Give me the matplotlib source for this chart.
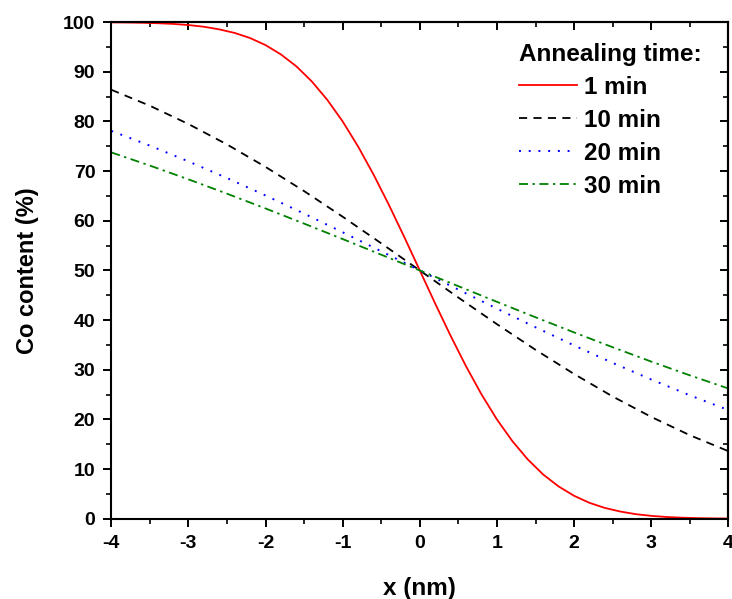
import matplotlib
matplotlib.use("Agg")
import matplotlib.pyplot as plt
from matplotlib.ticker import MultipleLocator

x_red = [-4.0, -3.8, -3.6, -3.4, -3.2, -3.0, -2.8, -2.6, -2.4, -2.2, -2.0, -1.8, -1.6, -1.4, -1.2, -1.0,
         -0.8, -0.6, -0.4, -0.2, 0.0, 0.2, 0.4, 0.6, 0.8, 1.0, 1.2, 1.4, 1.6, 1.8, 2.0, 2.2, 2.4, 2.6,
         2.8, 3.0, 3.2, 3.4, 3.6, 3.8, 4.0]
co_1min = [99.96, 99.93, 99.88, 99.79, 99.65, 99.42, 99.08, 98.55, 97.83, 96.80, 95.38, 93.50, 91.10, 88.06,
           84.37, 80.01, 74.96, 69.32, 63.18, 56.69, 50.0, 43.31, 36.82, 30.68, 25.04, 19.99, 15.63, 11.94,
           8.90, 6.50, 4.62, 3.20, 2.17, 1.45, 0.92, 0.58, 0.35, 0.21, 0.12, 0.07, 0.04]

x_pos = [-4.0, -3.5, -3.0, -2.5, -2.0, -1.5, -1.0, -0.5, 0.0, 0.5, 1.0, 1.5, 2.0, 2.5, 3.0, 3.5, 4.0]
co_10min = [86.39, 83.17, 79.49, 75.38, 70.85, 65.98, 60.82, 55.46, 50.0, 44.54, 39.18, 34.02, 29.15, 24.62, 20.51, 16.83, 13.61]
co_20min = [78.11, 75.14, 71.96, 68.61, 65.10, 61.44, 57.69, 53.86, 50.0, 46.14, 42.31, 38.56, 34.90, 31.39, 28.04, 24.86, 21.89]
co_30min = [73.77, 71.12, 68.35, 65.46, 62.48, 59.43, 56.32, 53.17, 50.0, 46.83, 43.68, 40.57, 37.52, 34.54, 31.65, 28.88, 26.23]

labels = ["1 min", "10 min", "20 min", "30 min"]
x_ticks = [-4, -3, -2, -1, 0, 1, 2, 3, 4]
y_ticks = [0, 10, 20, 30, 40, 50, 60, 70, 80, 90, 100]

plt.rcParams['font.family'] = ['Liberation Sans', 'DejaVu Sans']
plt.rcParams['font.weight'] = 'bold'
plt.rcParams['axes.unicode_minus'] = False

fig = plt.figure(figsize=(7.32, 5.99), dpi=100)
ax = fig.add_axes([0.152, 0.134, 0.843, 0.829])

ax.plot(x_red, co_1min, color='#ff0000', lw=1.3, ls='-', label=labels[0])
ax.plot(x_pos, co_10min, color='black', lw=1.3, ls=(0, (4.5, 3.5)), label=labels[1])
ax.plot(x_pos, co_20min, color='#0000ff', lw=1.4, ls=(0, (1, 4)), label=labels[2])
ax.plot(x_pos, co_30min, color='#008000', lw=1.3, ls=(0, (5, 2.5, 1.3, 2.5)), label=labels[3])

ax.set_xlim(-4, 4)
ax.set_ylim(0, 100)
ax.set_xticks(x_ticks)
ax.set_yticks(y_ticks)
ax.xaxis.set_minor_locator(MultipleLocator(0.5))
ax.yaxis.set_minor_locator(MultipleLocator(5))
ax.tick_params(which='major', direction='out', length=6, width=1.4, labelsize=14)
ax.tick_params(axis='x', which='major', pad=6)
ax.tick_params(axis='y', which='major', pad=5.5)
ax.tick_params(which='minor', direction='out', length=3.5, width=1.2)
for lab in ax.get_xticklabels() + ax.get_yticklabels():
    lab.set_fontweight('bold')
for s in ax.spines.values():
    s.set_linewidth(1.5)

secx = ax.secondary_xaxis('top')
secx.set_xticks(x_ticks)
secx.xaxis.set_minor_locator(MultipleLocator(0.5))
secx.tick_params(which='major', direction='in', length=6, width=1.4, labeltop=False)
secx.tick_params(which='minor', direction='in', length=3.5, width=1.2)
secx.spines['top'].set_linewidth(1.5)
secy = ax.secondary_yaxis('right')
secy.set_yticks(y_ticks)
secy.yaxis.set_minor_locator(MultipleLocator(5))
secy.tick_params(which='major', direction='in', length=6, width=1.4, labelright=False)
secy.tick_params(which='minor', direction='in', length=3.5, width=1.2)
secy.spines['right'].set_linewidth(1.5)

ax.set_xlabel('x (nm)', fontsize=17.5, fontweight='bold', labelpad=18)
ax.set_ylabel('Co content (%)', fontsize=17, fontweight='bold', labelpad=17)

leg = ax.legend(title='Annealing time:', loc='upper left', frameon=False,
                prop={'size': 17.5, 'weight': 'bold'},
                title_fontproperties={'size': 17.5, 'weight': 'bold'},
                handlelength=2.4, handletextpad=0.3, labelspacing=0.41,
                borderpad=0, borderaxespad=0, bbox_to_anchor=(0.66, 0.958))
leg._legend_box.align = 'left'

fig.savefig('out.png', dpi=100)
